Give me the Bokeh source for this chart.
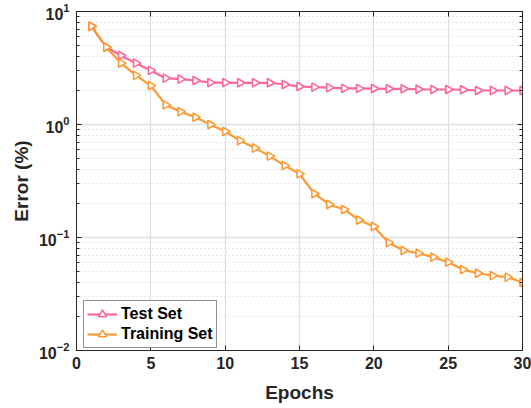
import math
from bokeh.plotting import figure
from bokeh.models import LinearAxis, FixedTicker, Range1d, CustomJSTickFormatter, Legend, LegendItem, ColumnDataSource
from bokeh.embed import file_html
from bokeh.resources import INLINE

epochs = list(range(1, 31))
test_err = [7.4, 4.83, 4.08, 3.49, 3.01, 2.57, 2.52, 2.45, 2.35, 2.35,
            2.34, 2.34, 2.34, 2.26, 2.17, 2.14, 2.12, 2.09, 2.09, 2.08,
            2.07, 2.07, 2.05, 2.04, 2.04, 2.03, 2.0, 2.0, 2.0, 2.0]
train_err = [7.4, 4.83, 3.49, 2.72, 2.21, 1.49, 1.30, 1.16, 1.0, 0.867,
             0.72, 0.62, 0.525, 0.433, 0.366, 0.244, 0.196, 0.177, 0.143, 0.125,
             0.090, 0.0767, 0.0727, 0.067, 0.0605, 0.052, 0.0483, 0.046, 0.0446, 0.040]
x_ticks = [0, 5, 10, 15, 20, 25, 30]
y_major = [0.01, 0.1, 1, 10]
y_minor = [m * d for d in [0.01, 0.1, 1] for m in range(2, 10)]
series_names = ["Test Set", "Training Set"]
colors = ["#ff6699", "#ff9933"]

FONT = "Liberation Sans"
TXT = "#262626"

p = figure(width=531, height=408, y_axis_type="log",
           x_range=Range1d(0, 30), y_range=Range1d(0.01, 10),
           output_backend="svg", toolbar_location=None,
           min_border_left=76, min_border_right=9, min_border_top=11, min_border_bottom=58,
           background_fill_color="white", border_fill_color="white")
p.outline_line_color = TXT
p.outline_line_width = 1

items = []
for name, ys, c in zip(series_names, [test_err, train_err], colors):
    ln = p.line(epochs, ys, line_color=c, line_width=2.2)
    p.scatter(epochs, ys, marker="triangle", angle=-math.pi / 2, size=8.5,
              line_color=c, line_width=1.6, fill_color="white")
    # legend-only marker (NaN point, draws nothing in the plot)
    lm = p.scatter(x="x", y="y", source=ColumnDataSource(dict(x=[float("nan")], y=[float("nan")])),
                   marker="triangle", size=13, line_color=c, line_width=1.5,
                   fill_color="white")
    items.append(LegendItem(label=name, renderers=[ln, lm]))

lg = Legend(items=items, location=(7, 2))
p.add_layout(lg, "center")

# axes styling
for ax in [p.xaxis[0], p.yaxis[0]]:
    ax.axis_line_color = TXT
    ax.major_tick_line_color = TXT
    ax.minor_tick_line_color = TXT
    ax.major_tick_in = 5
    ax.major_tick_out = 0
    ax.minor_tick_in = 3
    ax.minor_tick_out = 0
    ax.major_label_text_font = FONT
    ax.major_label_text_font_style = "bold"
    ax.major_label_text_font_size = "16px"
    ax.major_label_text_color = TXT
    ax.axis_label_text_font = FONT
    ax.axis_label_text_font_style = "bold"
    ax.axis_label_text_font_size = "19px"
    ax.axis_label_text_color = TXT

p.xaxis.ticker = FixedTicker(ticks=x_ticks)
p.xaxis.minor_tick_line_color = None
p.xaxis.axis_label = "Epochs"
p.xaxis.major_label_standoff = 6
p.xaxis.axis_label_standoff = 10
p.yaxis.axis_label = "Error (%)"
p.yaxis.major_label_standoff = 7
p.yaxis.axis_label_standoff = 4

# box axes top/right (ticks only)
blank = CustomJSTickFormatter(code="return '';")
top = LinearAxis(ticker=FixedTicker(ticks=x_ticks), formatter=blank,
                 major_label_standoff=0, major_tick_in=5, major_tick_out=0,
                 minor_tick_line_color=None, axis_line_color=TXT, major_tick_line_color=TXT)
p.add_layout(top, "above")
right = LinearAxis(ticker=FixedTicker(ticks=y_major, minor_ticks=y_minor), formatter=blank,
                   major_label_standoff=0, major_tick_in=5, major_tick_out=0,
                   minor_tick_in=3, minor_tick_out=0,
                   axis_line_color=TXT, major_tick_line_color=TXT, minor_tick_line_color=TXT)
p.add_layout(right, "right")

# grids
p.xgrid.ticker = FixedTicker(ticks=x_ticks)
p.xgrid.grid_line_color = "#e0e0e0"
p.xgrid.grid_line_width = 1.3
p.ygrid.grid_line_color = "#e0e0e0"
p.ygrid.grid_line_width = 1.3
p.ygrid.minor_grid_line_color = "#d2d2d2"
p.ygrid.minor_grid_line_dash = "1 3"

# legend style
lg.label_text_font = FONT
lg.label_text_font_style = "bold"
lg.label_text_font_size = "16px"
lg.label_text_color = "black"
lg.border_line_color = TXT
lg.border_line_width = 1
lg.background_fill_color = "white"
lg.background_fill_alpha = 1
lg.padding = 3
lg.spacing = 0
lg.margin = 0
lg.glyph_width = 30
lg.glyph_height = 20
lg.label_height = 20
lg.label_standoff = 4

open("out.html", "w").write(file_html(p, INLINE))
